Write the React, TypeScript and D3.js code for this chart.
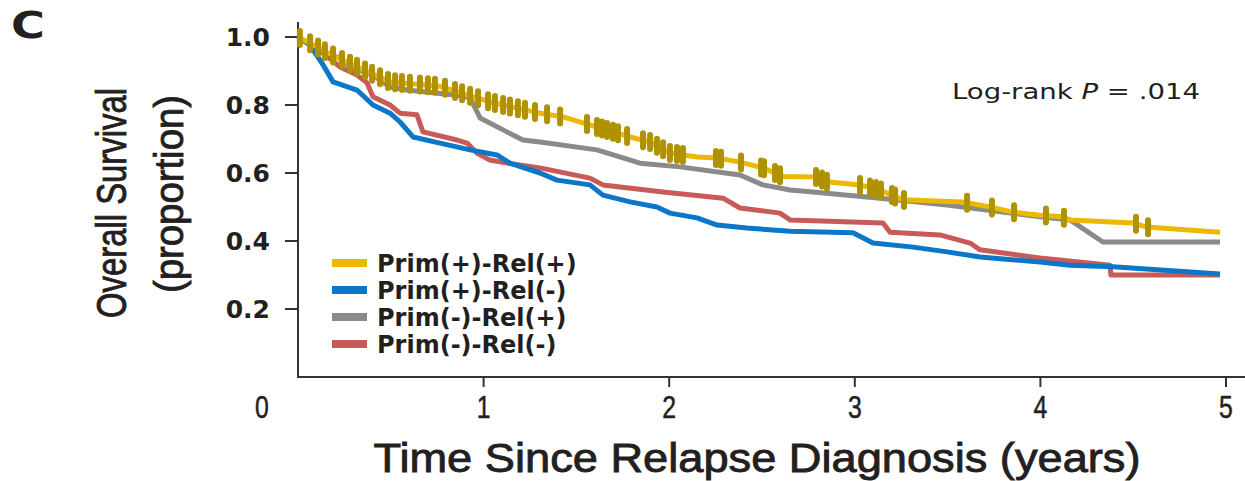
import React from "react";
import * as d3 from "d3";

// series: [years, survival proportion]
const primPosRelPos: [number, number][] = [
  [0, 1.0], [0.226, 0.935], [0.496, 0.868], [0.765, 0.855], [1.034, 0.809],
  [1.304, 0.776], [1.428, 0.765], [1.611, 0.735], [1.789, 0.706], [1.897, 0.691],
  [2.004, 0.659], [2.15, 0.647], [2.258, 0.644], [2.381, 0.632], [2.505, 0.615],
  [2.613, 0.59], [2.796, 0.588], [2.85, 0.574], [3.028, 0.565], [3.136, 0.55],
  [3.26, 0.521], [3.583, 0.515], [3.728, 0.5], [3.852, 0.485], [3.998, 0.476],
  [4.116, 0.471], [4.159, 0.462], [4.499, 0.453], [4.574, 0.441], [4.968, 0.426],
];

const primPosRelNeg: [number, number][] = [
  [0, 1.0], [0.065, 0.976], [0.135, 0.918], [0.189, 0.868], [0.318, 0.844],
  [0.404, 0.8], [0.496, 0.776], [0.55, 0.75], [0.62, 0.706], [0.765, 0.688],
  [0.927, 0.668], [1.072, 0.653], [1.142, 0.629], [1.304, 0.6], [1.395, 0.579],
  [1.573, 0.565], [1.643, 0.535], [1.789, 0.515], [1.934, 0.5], [2.004, 0.482],
  [2.15, 0.468], [2.258, 0.447], [2.419, 0.438], [2.651, 0.429], [2.99, 0.424],
  [3.098, 0.394], [3.314, 0.382], [3.497, 0.368], [3.675, 0.353], [3.998, 0.338],
  [4.159, 0.329], [4.391, 0.324], [4.968, 0.303],
];

const primNegRelPos: [number, number][] = [
  [0, 1.0], [0.135, 0.956], [0.226, 0.938], [0.28, 0.912], [0.404, 0.888],
  [0.496, 0.853], [0.587, 0.844], [0.857, 0.829], [0.927, 0.821], [0.981, 0.762],
  [1.126, 0.721], [1.212, 0.697], [1.304, 0.691], [1.611, 0.668], [1.843, 0.629],
  [2.058, 0.618], [2.381, 0.594], [2.505, 0.565], [2.651, 0.55], [2.775, 0.544],
  [3.136, 0.526], [3.497, 0.506], [3.998, 0.471], [4.159, 0.462], [4.337, 0.397],
  [4.968, 0.397],
];

const primNegRelNeg: [number, number][] = [
  [0, 1.0], [0.135, 0.953], [0.226, 0.912], [0.318, 0.888], [0.372, 0.865],
  [0.404, 0.824], [0.496, 0.8], [0.55, 0.776], [0.641, 0.771], [0.673, 0.721],
  [0.857, 0.697], [0.911, 0.688], [0.964, 0.659], [1.034, 0.638], [1.126, 0.629],
  [1.304, 0.615], [1.573, 0.585], [1.643, 0.565], [1.967, 0.544], [2.29, 0.526],
  [2.381, 0.497], [2.597, 0.482], [2.651, 0.462], [3.152, 0.453], [3.19, 0.426],
  [3.459, 0.418], [3.621, 0.394], [3.675, 0.374], [3.998, 0.35], [4.375, 0.329],
  [4.38, 0.3], [4.968, 0.3],
];

// censoring times on the Prim(+)-Rel(+) curve
const censorTimes = [
  0.01, 0.065, 0.108, 0.145, 0.189, 0.237, 0.28, 0.318, 0.361, 0.399, 0.442,
  0.485, 0.523, 0.56, 0.603, 0.657, 0.7, 0.738, 0.792, 0.846, 0.884, 0.927,
  0.97, 1.024, 1.061, 1.105, 1.142, 1.185, 1.223, 1.277, 1.342, 1.412, 1.557,
  1.611, 1.638, 1.665, 1.697, 1.724, 1.773, 1.859, 1.897, 1.934, 1.967, 2.004,
  2.042, 2.074, 2.252, 2.279, 2.387, 2.495, 2.511, 2.57, 2.597, 2.791, 2.823,
  2.85, 3.028, 3.082, 3.114, 3.141, 3.2, 3.217, 3.265, 3.605, 3.739, 3.858,
  4.03, 4.127, 4.515, 4.58,
];

const seriesNames = ["Prim(+)-Rel(+)", "Prim(+)-Rel(-)", "Prim(-)-Rel(+)", "Prim(-)-Rel(-)"];
const seriesColors = ["#ecb800", "#0b77c8", "#8a8a8a", "#c95a5a"];
const seriesData = [primPosRelPos, primPosRelNeg, primNegRelPos, primNegRelNeg];

const xTicks = [1, 2, 3, 4, 5];
const yTicks = [0.2, 0.4, 0.6, 0.8, 1.0];

const W = 1245;
const H = 481;
const ink = "#231f20";
const wide = "'DejaVu Sans', Verdana, sans-serif";
const sans = "'Liberation Sans', Arial, sans-serif";

// survival at time t
const valueAt = (data: [number, number][], t: number) => {
  const i = d3.bisector((d: [number, number]) => d[0]).right(data, t);
  if (i <= 0) return data[0][1];
  if (i >= data.length) return data[data.length - 1][1];
  const [t0, s0] = data[i - 1];
  const [t1, s1] = data[i];
  return s0 + ((s1 - s0) * (t - t0)) / (t1 - t0);
};

export default function App() {
  const x = d3.scaleLinear().domain([0, 5]).range([298, 1226]);
  const y = d3.scaleLinear().domain([0, 1]).range([377, 37]);
  const line = d3
    .line<[number, number]>()
    .x((d) => x(d[0]))
    .y((d) => y(d[1]));

  const y0 = y(0);

  // condensed look: squeeze a regular face horizontally and thicken a bit
  const condensed = {
    fontFamily: sans,
    fill: ink,
    stroke: ink,
    strokeWidth: 0.9,
  };

  return (
    <svg
      width={W}
      height={H}
      style={{ position: "absolute", left: 0, top: 0, background: "#fff" }}
    >
      {/* panel letter */}
      <text
        transform="translate(11,38) scale(1.25,1)"
        fontFamily={wide}
        fontWeight="bold"
        fontSize={37}
        fill={ink}
      >
        C
      </text>

      {/* y axis */}
      <line x1={x(0)} x2={x(0)} y1={22} y2={y0 + 1} stroke="#333" strokeWidth={2} />
      {yTicks.map((t) => (
        <g key={t}>
          <line x1={x(0) - 13} x2={x(0)} y1={y(t)} y2={y(t)} stroke="#333" strokeWidth={2} />
          <text
            x={270}
            y={y(t)}
            dy="0.36em"
            textAnchor="end"
            fontFamily={wide}
            fontWeight="bold"
            fontSize={25}
            fill={ink}
          >
            {t.toFixed(1)}
          </text>
        </g>
      ))}

      {/* x axis */}
      <line x1={x(0) - 1} x2={W} y1={y0} y2={y0} stroke="#333" strokeWidth={2} />
      {xTicks.map((t) => (
        <g key={t}>
          <line x1={x(t)} x2={x(t)} y1={y0} y2={y0 + 10} stroke="#333" strokeWidth={2} />
          <text
            transform={`translate(${x(t)},${y0 + 41}) scale(0.8,1)`}
            textAnchor="middle"
            fontSize={31}
            {...condensed}
            strokeWidth={0.5}
          >
            {t}
          </text>
        </g>
      ))}
      <text
        transform={`translate(262,${y0 + 41}) scale(0.8,1)`}
        textAnchor="middle"
        fontSize={31}
        {...condensed}
        strokeWidth={0.5}
      >
        0
      </text>

      {/* axis titles */}
      <text
        x={757}
        y={472}
        textAnchor="middle"
        fontSize={41}
        textLength={767}
        lengthAdjust="spacingAndGlyphs"
        {...condensed}
      >
        Time Since Relapse Diagnosis (years)
      </text>
      <text
        transform="translate(126,203) rotate(-90)"
        textAnchor="middle"
        fontSize={42}
        textLength={230}
        lengthAdjust="spacingAndGlyphs"
        {...condensed}
      >
        Overall Survival
      </text>
      <text
        transform="translate(183,194) rotate(-90)"
        textAnchor="middle"
        fontSize={40}
        textLength={198}
        lengthAdjust="spacingAndGlyphs"
        {...condensed}
      >
        (proportion)
      </text>

      {/* curves, drawn back to front */}
      {[2, 3, 1, 0].map((i) => (
        <path
          key={i}
          d={line(seriesData[i]) || ""}
          fill="none"
          stroke={seriesColors[i]}
          strokeWidth={5}
          strokeLinejoin="round"
        />
      ))}

      {/* censor marks */}
      {censorTimes.map((t, i) => {
        const cy = y(valueAt(primPosRelPos, t));
        return (
          <line
            key={i}
            x1={x(t)}
            x2={x(t)}
            y1={cy - 7}
            y2={cy + 7}
            stroke="#b09200"
            strokeWidth={6}
            strokeLinecap="round"
          />
        );
      })}

      {/* log-rank annotation */}
      <text
        x={952}
        y={99}
        fontFamily={wide}
        fontSize={21}
        fill={ink}
        textLength={248}
        lengthAdjust="spacingAndGlyphs"
      >
        Log-rank <tspan fontStyle="italic">P</tspan> = .014
      </text>

      {/* legend */}
      {seriesNames.map((name, i) => {
        const ly = 263 + i * 27;
        return (
          <g key={name}>
            <line x1={332} x2={367} y1={ly} y2={ly} stroke={seriesColors[i]} strokeWidth={8} />
            <text
              x={377}
              y={ly}
              dy="0.36em"
              fontFamily={wide}
              fontWeight="bold"
              fontSize={24}
              fill={ink}
            >
              {name}
            </text>
          </g>
        );
      })}
    </svg>
  );
}
